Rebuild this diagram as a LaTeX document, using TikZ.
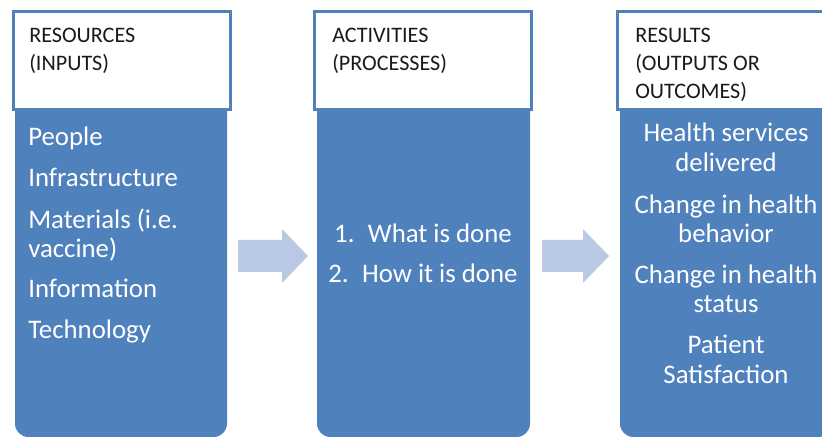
\documentclass[tikz,border=0pt]{standalone}
\usepackage{fontspec}
\setmainfont{Carlito}
\usepackage{xcolor}
\usetikzlibrary{positioning}

\definecolor{boxblue}{HTML}{4F81BD}
\definecolor{arrowblue}{RGB}{185,201,227}
\definecolor{headtext}{HTML}{1A1A1A}

\tikzset{
  colbody/.style={fill=boxblue, rounded corners=10pt},
  colhead/.style={draw=boxblue, line width=2.25pt, fill=white},
  blockarrow/.style={fill=arrowblue},
  headtxt/.style={anchor=base west, inner sep=0pt, text=headtext, font=\fontsize{16.6}{21}\selectfont},
  itemtxt/.style={anchor=base west, inner sep=0pt, text=white, font=\fontsize{20.1}{23}\selectfont},
  itemmid/.style={itemtxt, anchor=base}
}

\begin{document}
\begin{tikzpicture}[x=0.75pt,y=-0.75pt]
    \useasboundingbox (0,0) rectangle (822,438);
    \clip (0,0) rectangle (822,438);

    % Resources column
    \fill[colbody] (15,60) rectangle (227,437);
    \draw[colhead] (13,12) rectangle (230,110);
    \node[headtxt] (res-t1) at (29,43) {RESOURCES};
    \node[headtxt] (res-t2) at (29,71) {(INPUTS)};
    \node[itemtxt] (res-people) at (28,146) {People};
    \node[itemtxt] (res-infra) at (28,187) {Infrastructure};
    \node[itemtxt] (res-mat1) at (28,229) {Materials (i.e.};
    \node[itemtxt] (res-mat2) at (28,258) {vaccine)};
    \node[itemtxt] (res-info) at (28,298) {Information};
    \node[itemtxt] (res-tech) at (28,339) {Technology};

    % Arrow
    \fill[blockarrow] (238,240) -- (282,240) -- (282,229) -- (308,256)
        -- (282,283) -- (282,272) -- (238,272) -- cycle;

    % Activities column
    \fill[colbody] (317,60) rectangle (530,437);
    \draw[colhead] (314,12) rectangle (531,110);
    \node[headtxt] (act-t1) at (332,43) {ACTIVITIES};
    \node[headtxt] (act-t2) at (332,71) {(PROCESSES)};
    \node[itemmid] (act-what) at (423,243) {1.\enspace What is done};
    \node[itemmid] (act-how) at (423,283) {2.\enspace How it is done};

    % Arrow
    \fill[blockarrow] (542,240) -- (583,240) -- (583,229) -- (609,256)
        -- (583,283) -- (583,272) -- (542,272) -- cycle;

    % Results column
    \fill[colbody] (620,60) rectangle (832,437);
    \draw[colhead] (617,12) rectangle (836,110);
    \node[headtxt] (out-t1) at (635,43) {RESULTS};
    \node[headtxt] (out-t2) at (635,71) {(OUTPUTS OR};
    \node[headtxt] (out-t3) at (635,99) {OUTCOMES)};
    \node[itemmid] (out-serv1) at (726,142) {Health services};
    \node[itemmid] (out-serv2) at (726,172) {delivered};
    \node[itemmid] (out-behav1) at (726,214) {Change in health};
    \node[itemmid] (out-behav2) at (726,243) {behavior};
    \node[itemmid] (out-stat1) at (726,284) {Change in health};
    \node[itemmid] (out-stat2) at (726,313) {status};
    \node[itemmid] (out-pat1) at (726,354) {Patient};
    \node[itemmid] (out-pat2) at (726,384) {Satisfaction};
\end{tikzpicture}
\end{document}
